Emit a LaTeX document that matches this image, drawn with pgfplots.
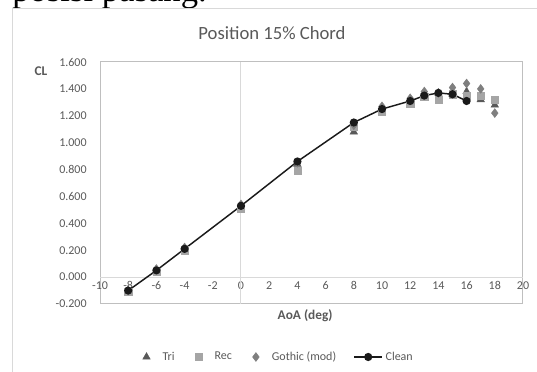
\documentclass[border=0pt]{standalone}
\usepackage{pgfplots}
\pgfplotsset{compat=1.18}
\usepackage{fontspec}
\setmainfont{Carlito}
\newfontfamily\serifdoc{Liberation Serif}
\definecolor{txt}{HTML}{595959}
\definecolor{cD9}{HTML}{D9D9D9}
\definecolor{cBF}{HTML}{BFBFBF}
\definecolor{tri}{HTML}{595959}
\definecolor{rec}{HTML}{A5A5A5}
\definecolor{goth}{HTML}{7F7F7F}
\definecolor{clean}{HTML}{1A1A1A}
\pgfplotsset{cleanlegend/.style={legend image code/.code={\draw[mark repeat=2,mark phase=2,##1] plot coordinates {(0pt,0pt) (10.5pt,0pt) (21pt,0pt)};}},
  scatlegend/.style={legend image code/.code={\path[draw=none,fill=none] (-5pt,0pt) -- (10pt,0pt); \draw[##1] plot coordinates {(0pt,0pt)};}}}
\begin{document}
\begin{tikzpicture}[x=0.75pt,y=0.75pt]
\useasboundingbox (0,0) rectangle (537,372);
\begin{scope}
\clip (0,0) rectangle (537,372);
\node[anchor=base west, inner sep=0, font=\serifdoc\fontsize{26}{31}\selectfont] at (12,370) {posisi pasang.};
\end{scope}
\draw[color=cD9, line width=0.75pt] (12,0) -- (12,363) -- (537,363);
\node[font=\fontsize{14}{17}\selectfont, text=txt] at (272,339) {Position 15\% Chord};
\node[font=\bfseries\fontsize{10}{12}\selectfont, text=txt] at (41,301) {CL};
\begin{axis}[
  at={(75pt,51pt)}, anchor=south west, scale only axis,
  width=317.25pt, height=181.5pt,
  xmin=-10, xmax=20, ymin=-0.2, ymax=1.6,
  xtick={-10,-8,...,20},
  ytick={-0.2,0,0.2,0.4,0.6,0.8,1.0,1.2,1.4,1.6},
  major tick length=0,
  axis line style={draw=cBF, line width=0.75pt},
  tick label style={font=\fontsize{9}{11}\selectfont, text=txt},
  /pgf/number format/assume math mode=true,
  y tick label style={/pgf/number format/fixed, /pgf/number format/fixed zerofill, /pgf/number format/precision=3, xshift=-6.5pt},
  x tick label style={yshift=20.2pt},
  xlabel={AoA (deg)},
  xlabel style={font=\bfseries\fontsize{10}{12}\selectfont, text=txt, at={(axis description cs:0.485,-0.047)}, anchor=center},
  legend style={at={(0.42,-0.219)}, anchor=center, draw=none, fill=none,
    font=\fontsize{9}{11}\selectfont, text=txt, legend columns=4,
    /tikz/every even column/.append style={column sep=11pt}},
  legend cell align=left,
]
\draw[cD9, line width=0.75pt] (axis cs:-10,0) -- (axis cs:20,0);
\draw[cD9, line width=0.75pt] (axis cs:0,-0.2) -- (axis cs:0,1.6);
\addplot[only marks, mark=triangle*, mark size=3.2pt, draw=tri, fill=tri, scatlegend] coordinates {
(-8,-0.11) (-6,0.04) (-4,0.20) (0,0.52) (4,0.84) (8,1.08) (10,1.23) (12,1.30) (13,1.36) (14,1.37) (15,1.36) (16,1.38) (17,1.32) (18,1.28)};
\addlegendentry{Tri}
\addplot[only marks, mark=square*, mark size=2.7pt, draw=rec, fill=rec, scatlegend] coordinates {
(-8,-0.11) (-6,0.04) (-4,0.20) (0,0.51) (4,0.79) (8,1.12) (10,1.23) (12,1.29) (13,1.34) (14,1.32) (15,1.36) (16,1.35) (17,1.35) (18,1.32)};
\addlegendentry{Rec}
\addplot[only marks, mark=diamond*, mark size=3.3pt, draw=goth, fill=goth, scatlegend] coordinates {
(-8,-0.10) (-6,0.06) (-4,0.22) (0,0.54) (4,0.85) (8,1.13) (10,1.27) (12,1.33) (13,1.38) (14,1.37) (15,1.41) (16,1.44) (17,1.40) (18,1.22)};
\addlegendentry{Gothic (mod)}
\addplot[clean, line width=1.1pt, mark=*, mark size=2.5pt, mark options={draw=clean, fill=clean}, cleanlegend] coordinates {
(-8,-0.10) (-6,0.05) (-4,0.21) (0,0.53) (4,0.86) (8,1.15) (10,1.25) (12,1.31) (13,1.35) (14,1.37) (15,1.36) (16,1.31)};
\addlegendentry{Clean}
\end{axis}
\end{tikzpicture}
\end{document}
